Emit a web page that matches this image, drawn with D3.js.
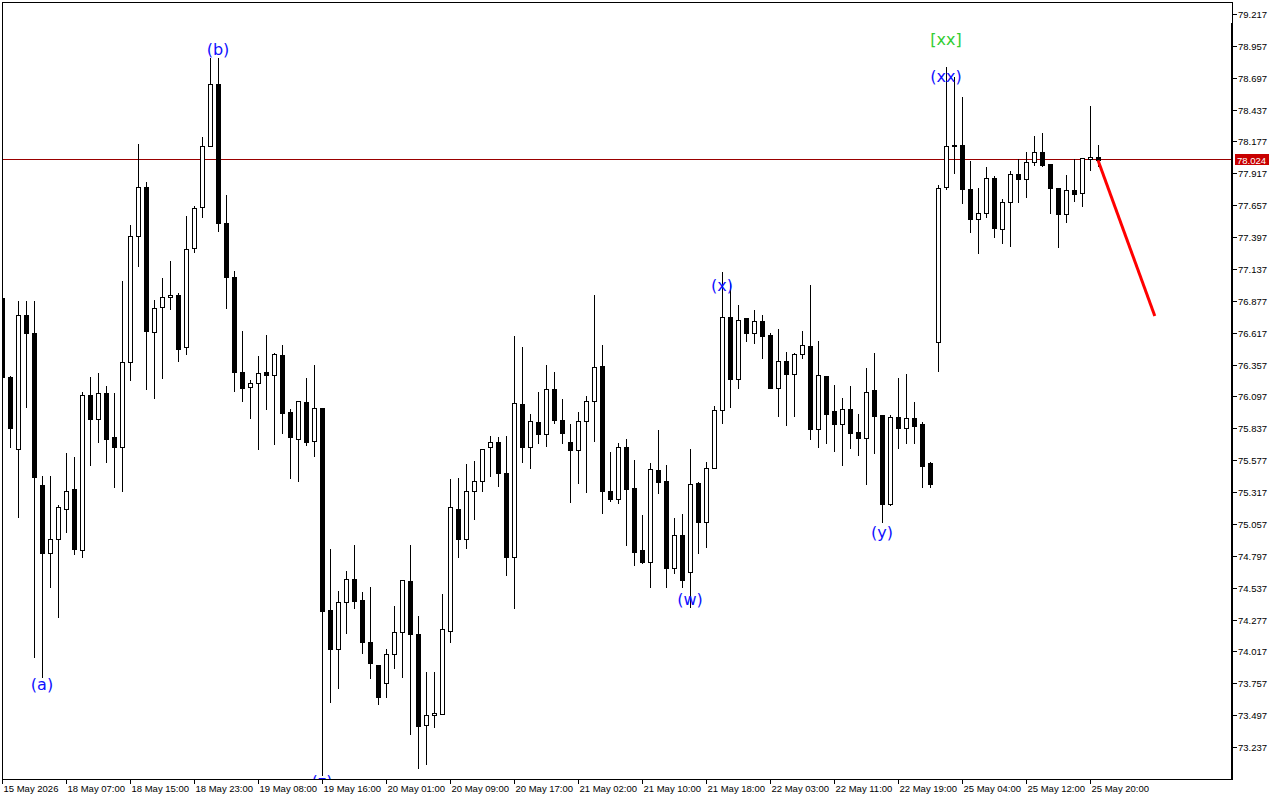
<!DOCTYPE html>
<html><head><meta charset="utf-8">
<script src="https://cdn.jsdelivr.net/npm/d3@7"></script>
<style>
html,body{margin:0;padding:0;background:#fff;}
svg{display:block;}
</style>
</head><body>
<svg id="chart" width="1280" height="800"></svg>
<script>
// ---------- data ----------
const xLabels = ["15 May 2026","18 May 07:00","18 May 15:00","18 May 23:00","19 May 08:00","19 May 16:00",
  "20 May 01:00","20 May 09:00","20 May 17:00","21 May 02:00","21 May 10:00","21 May 18:00",
  "22 May 03:00","22 May 11:00","22 May 19:00","25 May 04:00","25 May 12:00","25 May 20:00"];
const yTicks = [79.217,78.957,78.697,78.437,78.177,77.917,77.657,77.397,77.137,76.877,76.617,76.357,
  76.097,75.837,75.577,75.317,75.057,74.797,74.537,74.277,74.017,73.757,73.497,73.237];

const open = [76.900,76.256,75.668,76.761,76.615,75.375,74.820,74.934,75.179,75.342,
  74.844,76.109,75.913,76.125,75.766,75.685,76.378,77.406,77.806,76.623,
  76.827,76.908,76.925,76.500,77.308,77.642,78.140,78.646,77.512,77.071,
  76.296,76.174,76.207,76.296,76.272,76.435,75.970,75.750,76.052,75.733,
  76.003,74.355,74.037,74.420,74.608,74.436,74.094,73.906,73.759,73.996,
  74.175,74.591,74.159,73.417,73.498,73.506,74.183,75.179,74.934,75.326,
  75.407,75.685,75.725,75.472,74.787,76.035,75.685,75.888,75.791,76.158,
  75.905,75.725,75.660,75.897,76.060,76.345,75.326,75.260,75.685,75.350,
  74.844,74.746,75.497,75.407,74.697,74.967,74.665,75.391,75.073,75.513,
  75.986,76.745,76.239,76.737,76.615,76.712,76.598,76.166,76.386,76.280,
  76.443,76.509,75.831,76.264,75.978,75.872,75.994,75.807,75.758,76.149,
  75.946,75.220,75.929,75.839,75.921,75.872,75.554,76.541,77.806,78.140,
  78.148,77.789,77.545,77.594,77.879,77.463,77.683,77.912,77.871,78.010,
  78.091,77.993,77.797,77.585,77.781,77.757,78.034,78.050];
const high = [76.908,76.264,76.876,76.876,76.876,75.448,75.448,75.211,75.636,75.603,
  76.133,76.256,76.288,76.182,76.125,77.039,77.496,78.156,77.846,76.884,
  77.063,77.202,76.941,77.569,77.651,78.214,78.858,78.858,77.740,77.120,
  76.631,76.231,76.427,76.598,76.451,76.517,75.994,76.060,76.247,76.353,
  76.003,74.852,74.510,74.673,74.885,74.502,74.542,73.906,74.037,74.387,
  74.599,74.885,74.306,73.849,73.849,74.485,75.423,75.432,75.546,75.570,
  75.668,75.774,75.766,75.774,76.590,76.500,75.954,76.133,76.353,76.296,
  76.076,75.872,75.970,76.101,76.925,76.517,75.644,75.717,75.750,75.578,
  75.130,75.554,75.823,75.538,75.105,75.138,75.668,75.399,75.562,76.019,
  77.113,77.022,76.843,76.737,76.802,76.761,76.615,76.647,76.460,76.451,
  76.631,77.006,76.549,76.264,76.190,76.084,76.182,75.954,76.329,76.451,
  75.946,75.946,76.247,76.280,76.052,75.888,75.562,77.822,78.785,78.703,
  78.540,78.018,77.797,77.969,77.895,77.708,77.936,78.034,78.091,78.222,
  78.246,77.993,77.797,77.904,78.034,78.042,78.467,78.148];
const low = [76.231,75.685,75.113,76.011,73.971,73.808,74.542,74.298,74.991,74.812,
  74.787,75.538,75.725,75.562,75.358,75.326,76.231,77.161,76.158,76.084,
  76.247,76.810,76.386,76.443,77.275,77.561,78.140,77.447,76.818,76.141,
  76.060,75.921,75.668,75.994,75.709,75.799,75.432,75.407,75.701,75.611,
  73.009,73.604,73.718,74.167,74.371,74.004,73.800,73.588,73.645,73.882,
  73.808,73.343,73.066,73.098,73.400,73.506,74.094,74.787,74.861,75.097,
  75.326,75.448,75.366,74.640,74.371,75.562,75.513,75.717,75.693,75.880,
  75.717,75.236,75.391,75.317,75.733,75.146,75.244,75.228,74.885,74.722,
  74.738,74.542,75.309,74.542,74.657,74.542,74.379,74.820,74.869,75.513,
  75.880,76.011,76.166,76.549,76.533,76.411,76.166,75.937,75.864,75.937,
  76.411,75.750,75.685,75.717,75.652,75.538,75.676,75.619,75.383,75.636,
  75.073,75.211,75.676,75.717,75.717,75.358,75.358,76.304,77.789,77.920,
  77.675,77.438,77.267,77.561,77.398,77.349,77.324,77.683,77.724,77.985,
  77.977,77.594,77.316,77.520,77.691,77.651,77.944,77.977];
const close = [76.256,75.839,76.761,76.615,75.440,74.820,74.934,75.195,75.326,74.852,
  76.109,75.913,76.125,75.750,75.685,76.378,77.406,77.806,76.631,76.818,
  76.908,76.925,76.484,77.300,77.634,78.140,78.646,77.512,77.071,76.296,
  76.166,76.207,76.288,76.272,76.443,75.962,75.766,76.060,75.725,76.003,
  74.347,74.037,74.420,74.608,74.428,74.094,73.922,73.645,73.996,74.175,
  74.599,74.159,73.408,73.498,73.514,74.200,75.195,74.934,75.326,75.407,
  75.668,75.725,75.472,74.787,76.043,75.685,75.897,75.791,76.158,75.905,
  75.799,75.660,75.897,76.060,76.337,75.326,75.260,75.685,75.342,74.828,
  74.746,75.505,75.399,74.697,74.967,74.599,75.383,75.073,75.513,75.986,
  76.745,76.239,76.721,76.615,76.712,76.590,76.166,76.386,76.280,76.443,
  76.517,75.831,76.272,75.954,75.872,75.994,75.799,75.758,76.133,75.937,
  75.220,75.929,75.839,75.921,75.856,75.530,75.383,77.797,78.140,78.148,
  77.789,77.545,77.594,77.879,77.471,77.683,77.912,77.871,78.010,78.091,
  77.985,77.797,77.585,77.781,77.749,78.042,78.050,78.024];

const currentPrice = 78.024;

const waveText  = ["(a)","(b)","(z)","(w)","(x)","(y)","(xx)","[xx]"];
const waveIndex = [5, 27, 40, 86, 90, 110, 118, 118];
const wavePrice = [73.743, 78.931, 72.959, 74.444, 76.998, 74.991, 78.711, 79.013];
const waveColor = ["#1010ff","#1010ff","#1010ff","#1010ff","#1010ff","#1010ff","#1010ff","#32cd32"];

const forecastIndex = [137, 144.1];
const forecastPrice = [78.024, 76.753];

// ---------- drawing ----------
const svg = d3.select("#chart");
const font = "'Liberation Sans', Arial, sans-serif";

const x = d3.scaleLinear().domain([0, 137]).range([2, 1098]);
const y = d3.scaleLinear().domain([73.237, 79.217]).range([747, 14]);
const yr = y.copy().interpolate(d3.interpolateRound);
const xr = x.copy().interpolate(d3.interpolateRound);

svg.append("rect").attr("width", 1280).attr("height", 800).attr("fill", "#fff");

svg.append("defs").append("clipPath").attr("id", "plotClip")
  .append("rect").attr("x", 3).attr("y", 3).attr("width", 1228).attr("height", 776);

const plot = svg.append("g").attr("clip-path", "url(#plotClip)");

// current price line
plot.append("line")
  .attr("x1", 2).attr("x2", 1232)
  .attr("y1", yr(currentPrice) - 0.5).attr("y2", yr(currentPrice) - 0.5)
  .attr("stroke", "#9a0000").attr("stroke-width", 1);

const idx = d3.range(open.length);
const candles = plot.append("g").attr("shape-rendering", "crispEdges");

candles.selectAll("line.wick").data(idx).join("line")
  .attr("class", "wick")
  .attr("x1", i => xr(i) + 0.5).attr("x2", i => xr(i) + 0.5)
  .attr("y1", i => yr(high[i])).attr("y2", i => yr(low[i]) + 1)
  .attr("stroke", "#000").attr("stroke-width", 1);

candles.selectAll("path.body").data(idx).join("path")
  .attr("class", "body")
  .attr("d", i => {
    const top = yr(Math.max(open[i], close[i])) + 0.5;
    const bot = yr(Math.min(open[i], close[i])) + 0.5;
    const l = xr(i) - 1.5, r = xr(i) + 2.5;
    return `M${l},${top}H${r}V${bot}H${l}Z`;
  })
  .attr("fill", i => close[i] >= open[i] ? "#fff" : "#000")
  .attr("stroke", "#000").attr("stroke-width", 1);

// wave labels
plot.selectAll("text.wave").data(waveText).join("text")
  .attr("class", "wave")
  .attr("x", (d, i) => x(waveIndex[i]))
  .attr("y", (d, i) => y(wavePrice[i]) + 5.5)
  .attr("text-anchor", "middle")
  .attr("font-family", "'DejaVu Sans', sans-serif")
  .attr("font-size", 16)
  .attr("fill", (d, i) => waveColor[i])
  .text(d => d);

// forecast line
plot.append("path")
  .datum(forecastIndex.map((d, i) => [d, forecastPrice[i]]))
  .attr("d", d3.line().x(d => x(d[0])).y(d => y(d[1])))
  .attr("fill", "none").attr("stroke", "#ff0000").attr("stroke-width", 3);

// frame
const frame = svg.append("g").attr("shape-rendering", "crispEdges");
frame.append("line").attr("x1", 2.5).attr("x2", 2.5).attr("y1", 2).attr("y2", 780).attr("stroke", "#000");
frame.append("line").attr("x1", 2).attr("x2", 1233).attr("y1", 2.5).attr("y2", 2.5).attr("stroke", "#000");
frame.append("line").attr("x1", 2).attr("x2", 1233).attr("y1", 779.5).attr("y2", 779.5).attr("stroke", "#000");
frame.append("line").attr("x1", 1232.5).attr("x2", 1232.5).attr("y1", 2).attr("y2", 24).attr("stroke", "#000");
frame.append("line").attr("x1", 1232).attr("x2", 1232).attr("y1", 23).attr("y2", 780).attr("stroke", "#000").attr("stroke-width", 2);

// right axis
const yAxis = svg.append("g")
  .attr("transform", "translate(1233,0)")
  .call(d3.axisRight(yr).tickValues(yTicks).tickFormat(d3.format(".3f")).tickSize(4).tickPadding(1).tickSizeOuter(0));
yAxis.select(".domain").remove();
yAxis.selectAll("line").attr("stroke", "#000").attr("shape-rendering", "crispEdges");
yAxis.selectAll("text").attr("font-family", font).attr("font-size", 9.5).attr("fill", "#000");

// bottom axis
const xAxis = svg.append("g")
  .attr("transform", "translate(0,779)")
  .call(d3.axisBottom(xr).tickValues(d3.range(0, 137, 8)).tickFormat((d, i) => xLabels[i]).tickSize(5).tickSizeOuter(0));
xAxis.select(".domain").remove();
xAxis.selectAll("line").attr("stroke", "#000").attr("shape-rendering", "crispEdges");
xAxis.selectAll("text")
  .attr("text-anchor", "start").attr("x", 1).attr("y", 13).attr("dy", 0)
  .attr("font-family", font).attr("font-size", 9.5).attr("fill", "#000");

// current price tag
const tagY = yr(currentPrice);
svg.append("rect").attr("x", 1235).attr("y", tagY - 6).attr("width", 34).attr("height", 11)
  .attr("fill", "#c80000");
svg.append("text").attr("x", 1237).attr("y", tagY + 3.5)
  .attr("font-family", font).attr("font-size", 9.5).attr("fill", "#fff")
  .text(d3.format(".3f")(currentPrice));
</script>
</body></html>
